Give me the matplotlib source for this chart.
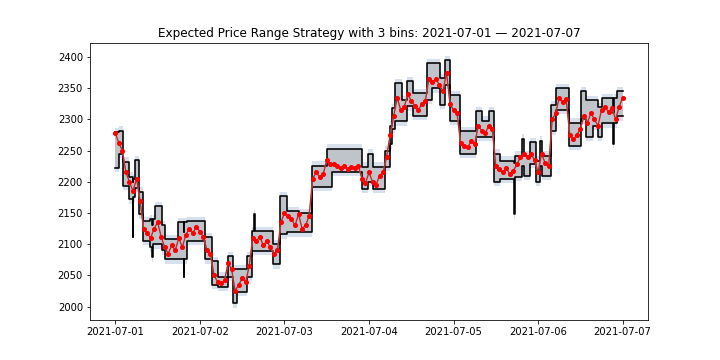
import pandas as pd
import matplotlib
matplotlib.use("Agg")
import matplotlib.pyplot as plt

# hourly price from 2021-07-01 00:00
price = [2278, 2262, 2250, 2215, 2200, 2185, 2205, 2170, 2125, 2118,
         2110, 2125, 2135, 2112, 2095, 2085, 2098, 2090, 2110, 2095,
         2115, 2125, 2118, 2128, 2120, 2112, 2090, 2085, 2050, 2040,
         2038, 2042, 2070, 2060, 2025, 2035, 2045, 2040, 2065, 2110,
         2105, 2112, 2098, 2105, 2095, 2085, 2090, 2135, 2150, 2145,
         2140, 2130, 2148, 2125, 2130, 2145, 2205, 2215, 2208, 2212,
         2235, 2228, 2228, 2225, 2222, 2226, 2220, 2224, 2222, 2225,
         2205, 2198, 2215, 2200, 2195, 2210, 2215, 2240, 2275, 2305,
         2335, 2315, 2320, 2340, 2330, 2322, 2315, 2325, 2330, 2365,
         2360, 2365, 2355, 2345, 2375, 2325, 2315, 2310, 2262, 2258,
         2255, 2265, 2260, 2290, 2282, 2278, 2290, 2285, 2225, 2220,
         2215, 2222, 2212, 2218, 2228, 2240, 2245, 2240, 2245, 2235,
         2215, 2245, 2230, 2225, 2300, 2310, 2335, 2328, 2332, 2275,
         2268, 2275, 2285, 2305, 2295, 2310, 2300, 2290, 2315, 2320,
         2312, 2318, 2300, 2320, 2335]

# expected ranges: start hour, lower bound, upper bound
range_start_h = [0, 0.9, 2.3, 4.0, 5.0, 5.12, 5.7, 6.8, 7.9, 9.9,
                 10.5, 10.62, 11.3, 13.3, 14.2, 17.8, 19.4, 19.52, 20.4, 25.5,
                 27.5, 29.2, 32.0, 33.4, 34.6, 37.4, 38.8, 39.4, 39.52, 44.8,
                 46.7, 48.7, 52.0, 55.8, 60.0, 61.5, 70.0, 71.7, 73.1, 76.5,
                 77.9, 78.6, 79.3, 81.3, 82.7, 84.4, 88.4, 89.8, 92.1, 93.5,
                 94.9, 97.7, 102.5, 104.0, 106.2, 107.6, 109.1, 113.3, 113.42, 115.3,
                 116.1, 117.6, 119.5, 120.4, 121.2, 123.8, 125.2, 128.9, 132.3, 133.7,
                 135.5, 137.0, 138.0, 141.4, 141.52, 142.5]
range_low = [2222, 2245, 2194, 2172, 2111, 2175, 2190, 2148, 2105, 2095,
             2079, 2100, 2100, 2090, 2076, 2076, 2047, 2076, 2105, 2076,
             2035, 2032, 2048, 2005, 2024, 2048, 2089, 2089, 2089, 2068,
             2116, 2119, 2119, 2192, 2192, 2216, 2189, 2200, 2189, 2224,
             2260, 2285, 2297, 2297, 2321, 2306, 2331, 2350, 2323, 2355,
             2298, 2245, 2272, 2272, 2272, 2200, 2205, 2148, 2208, 2225,
             2210, 2229, 2200, 2225, 2210, 2282, 2315, 2258, 2300, 2272,
             2290, 2272, 2294, 2261, 2294, 2305]
range_high = [2280, 2282, 2232, 2208, 2200, 2205, 2235, 2184, 2137, 2140,
              2130, 2140, 2161, 2130, 2108, 2135, 2120, 2135, 2137, 2111,
              2073, 2048, 2081, 2060, 2060, 2081, 2121, 2148, 2121, 2100,
              2177, 2153, 2150, 2226, 2253, 2253, 2224, 2245, 2224, 2250,
              2290, 2318, 2358, 2331, 2361, 2342, 2390, 2390, 2366, 2395,
              2339, 2281, 2313, 2298, 2313, 2245, 2234, 2230, 2242, 2269,
              2242, 2264, 2234, 2266, 2242, 2323, 2350, 2295, 2345, 2331,
              2331, 2320, 2334, 2310, 2334, 2345]
end_h = 144
band_pad = 7

t0 = pd.Timestamp("2021-07-01")
t_price = t0 + pd.to_timedelta(range(len(price)), unit="h")
t_rng = t0 + pd.to_timedelta(range_start_h + [end_h], unit="h")
low = range_low + [range_low[-1]]
high = range_high + [range_high[-1]]
low_pad = [v - band_pad for v in low]
high_pad = [v + band_pad for v in high]

fig, ax = plt.subplots(figsize=(10, 5), dpi=72)
ax.fill_between(t_rng, low_pad, high_pad, step="post", color="lightsteelblue", alpha=0.5, lw=0)
ax.fill_between(t_rng, low, high, step="post", color="darkgrey", alpha=0.5, lw=0)
ax.plot(t_rng, low, drawstyle="steps-post", color="black", lw=1.6)
ax.plot(t_rng, high, drawstyle="steps-post", color="black", lw=1.6)
ax.plot(t_price, price, color="grey", lw=1.5)
ax.plot(t_price, price, color="red", lw=0.8)
ax.plot(t_price, price, "r.", ms=8)

ax.set_title("Expected Price Range Strategy with 3 bins: 2021-07-01 \u2014 2021-07-07")
plt.savefig("out.png")
